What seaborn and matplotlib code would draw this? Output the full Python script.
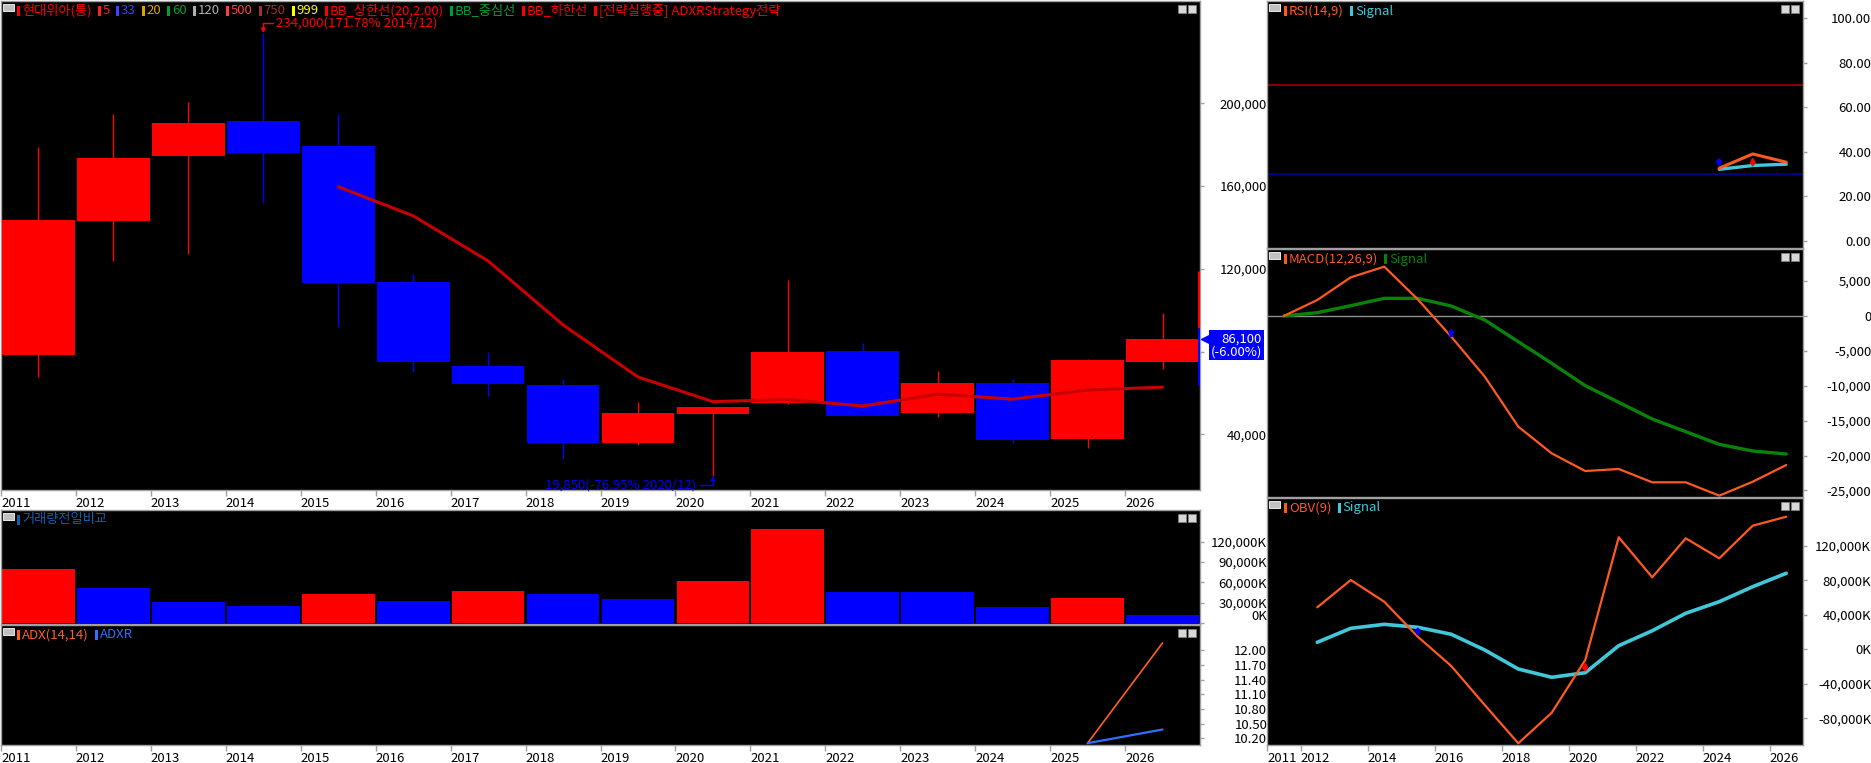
import numpy as np
import pandas as pd
import matplotlib
matplotlib.use("Agg")
import matplotlib.pyplot as plt
import seaborn as sns
from matplotlib.patches import Rectangle
from matplotlib import transforms, font_manager

# ---------------- data ----------------
years = ["2011", "2012", "2013", "2014", "2015", "2016", "2017", "2018",
         "2019", "2020", "2021", "2022", "2023", "2024", "2025", "2026"]
opens = [78300, 143250, 174700, 191300, 179400, 113600, 73100, 63800,
         35930, 49800, 54980, 80260, 50300, 64800, 37720, 75100]
closes = [143600, 173700, 190300, 176000, 113100, 75100, 64450, 35930,
          50150, 53350, 79950, 48990, 64800, 37400, 75900, 86100]
highs = [179000, 194700, 200800, 234000, 194700, 117500, 79900, 66600,
         55750, 53350, 114600, 84000, 70600, 66700, 76400, 98800]
lows = [67800, 123800, 127150, 152000, 91700, 70000, 58500, 28050,
        34800, 19850, 54650, 48990, 48500, 35950, 33500, 71700]
ma5_years = ["2015", "2016", "2017", "2018", "2019", "2020", "2021",
             "2022", "2023", "2024", "2025", "2026"]
ma5 = [159700, 145600, 123800, 92900, 67700, 55800, 56800, 53700,
       59400, 57000, 61400, 62800]
cur_bar_lo, cur_bar_mid, cur_bar_hi = 63800, 91200, 119000

volume_k = [79700, 51700, 31000, 25100, 42800, 32500, 47200, 42800,
            35400, 62000, 138700, 45800, 45800, 23600, 36900, 11800]
volume_dir = ["up", "down", "down", "down", "up", "down", "up", "down",
              "down", "up", "up", "down", "down", "down", "up", "down"]

adx_years = ["2025", "2026"]
adx = [10.10, 12.15]
adxr = [10.10, 10.38]

rsi_years = ["2024", "2025", "2026"]
rsi = [32.6, 39.0, 35.3]
rsi_signal = [32.1, 33.8, 34.4]

macd = [0, 2290, 5540, 7070, 2390, -2960, -8690, -15850, -19680, -22210,
        -21920, -23830, -23830, -25740, -23740, -21350]
macd_signal = [0, 480, 1480, 2530, 2530, 1430, -570, -3680, -6780, -9980,
               -12370, -14760, -16570, -18390, -19340, -19770]

obv_years = years[1:]
obv_k = [48600, 80200, 55100, 14600, -19300, -64500, -108800, -73400,
         -12400, 129700, 83400, 128500, 105400, 143100, 153500]
obv_signal_k = [8100, 24300, 28900, 25500, 17400, -800, -22800, -32400,
                -27100, 4200, 21500, 41700, 55100, 72500, 88000]

price_ticks = [40000, 80000, 120000, 160000, 200000]
price_labels = ["40,000", "", "120,000", "160,000", "200,000"]
vol_ticks = [0, 30000, 60000, 90000, 120000]
vol_labels = ["0K", "30,000K", "60,000K", "90,000K", "120,000K"]
adx_ticks = [10.2, 10.5, 10.8, 11.1, 11.4, 11.7, 12.0]
adx_labels = ["10.20", "10.50", "10.80", "11.10", "11.40", "11.70", "12.00"]
rsi_ticks = [0, 20, 40, 60, 80, 100]
rsi_labels = ["0.00", "20.00", "40.00", "60.00", "80.00", "100.00"]
macd_ticks = [-25000, -20000, -15000, -10000, -5000, 0, 5000]
macd_labels = ["-25,000", "-20,000", "-15,000", "-10,000", "-5,000", "0", "5,000"]
obv_ticks = [-80000, -40000, 0, 40000, 80000, 120000]
obv_labels = ["-80,000K", "-40,000K", "0K", "40,000K", "80,000K", "120,000K"]
right_date_labels = ["2011", "2012", "2014", "2016", "2018", "2020", "2022", "2024", "2026"]

# ---------------- style ----------------
sns.set_theme(style="ticks")
installed = {f.name for f in font_manager.fontManager.ttflist}
if "Liberation Sans Narrow" in installed:
    plt.rcParams["font.family"] = ["Liberation Sans Narrow", "Noto Sans CJK KR", "DejaVu Sans"]
    FS = 10
else:
    plt.rcParams["font.family"] = ["Noto Sans CJK KR", "DejaVu Sans"]
    FS = 9.5
plt.rcParams["axes.unicode_minus"] = False

W, H = 1871, 763
fig = plt.figure(figsize=(W / 100, H / 100), dpi=100, facecolor="white")


def add_ax(x0, y0, x1, y1):
    return fig.add_axes([x0 / W, 1 - y1 / H, (x1 - x0) / W, (y1 - y0) / H])


def style_panel(ax):
    ax.set_facecolor("black")
    for s in ax.spines.values():
        s.set_color("#A0A0A0")
        s.set_linewidth(1)
    ax.grid(False)
    ax.set_xlabel("")
    ax.set_ylabel("")


def right_ticks(ax, ticks, labels, pad_px):
    ax.set_yticks(ticks)
    ax.set_yticklabels(labels)
    ax.tick_params(axis="y", left=False, labelleft=False, right=True,
                   labelright=True, length=3, width=1, color="#A0A0A0",
                   pad=pad_px * 0.72, labelsize=FS, labelcolor="black",
                   direction="out")
    for tk in ax.yaxis.get_major_ticks():
        tk.label2.set_horizontalalignment("right")


def date_ticks(ax, positions, labels):
    ax.set_xticks(positions)
    ax.set_xticklabels(labels)
    ax.tick_params(axis="x", bottom=True, labelbottom=True, top=False,
                   length=4, width=1, color="#A0A0A0", pad=1, labelsize=FS,
                   labelcolor="black", direction="out")
    for tk in ax.xaxis.get_major_ticks():
        tk.label1.set_horizontalalignment("left")


def no_xticks(ax):
    ax.tick_params(axis="x", bottom=False, labelbottom=False, top=False)


xi = np.arange(len(years))
idx = {y: i for i, y in enumerate(years)}

ax_main = add_ax(1, 1, 1200, 490)
ax_vol = add_ax(1, 510, 1200, 624)
ax_adx = add_ax(1, 625, 1200, 745)
ax_rsi = add_ax(1267, 1, 1803, 248)
ax_macd = add_ax(1267, 249, 1803, 497)
ax_obv = add_ax(1267, 498, 1803, 745)

RED, BLUE = "#FF0000", "#0000FF"
ORANGE, CYAN, GREEN = "#FF5A1E", "#40C8D8", "#0A820A"

# ---------------- main candles ----------------
cols = [RED if c >= o else BLUE for o, c in zip(opens, closes)]
ax_main.vlines(xi, lows, highs, colors=cols, lw=1, zorder=2)
ax_main.bar(xi, np.array(closes) - np.array(opens), bottom=opens, width=0.97,
            color=cols, linewidth=0, zorder=3)
sns.lineplot(x=[idx[y] for y in ma5_years], y=ma5, ax=ax_main,
             color="#C80000", linewidth=2.2, zorder=4)
ax_main.vlines([15.48], [cur_bar_mid], [cur_bar_hi], colors=RED, lw=2.2, zorder=5)
ax_main.vlines([15.48], [cur_bar_lo], [cur_bar_mid], colors=BLUE, lw=2.2, zorder=5)
ax_main.set_xlim(-0.5, 15.5)
ax_main.set_ylim(13080, 249450)
style_panel(ax_main)
right_ticks(ax_main, price_ticks, price_labels, 63)
date_ticks(ax_main, xi - 0.5, years)

imax = int(np.argmax(highs))
imin = int(np.argmin(lows))
ax_main.annotate(f"{highs[imax]:,}(171.78% 2014/12)", xy=(imax, highs[imax]),
                 xytext=(9, 7), textcoords="offset points", ha="left", va="center",
                 color=RED, fontsize=FS,
                 arrowprops=dict(arrowstyle="-|>", color=RED, lw=1, mutation_scale=6,
                                 shrinkA=0, shrinkB=0,
                                 connectionstyle="angle,angleA=0,angleB=90,rad=0"))
ax_main.annotate(f"{lows[imin]:,}(-76.95% 2020/12)", xy=(imin, lows[imin]),
                 xytext=(-12, -6.5), textcoords="offset points", ha="right", va="center",
                 color=BLUE, fontsize=FS,
                 arrowprops=dict(arrowstyle="-|>", color=BLUE, lw=1, mutation_scale=6,
                                 shrinkA=0, shrinkB=0,
                                 connectionstyle="angle,angleA=0,angleB=90,rad=0"))

blend = transforms.blended_transform_factory(ax_main.transAxes, ax_main.transData)
ax_main.annotate(f"{closes[-1]:,}\n(-6.00%)", xy=(1, closes[-1]), xycoords=blend,
                 xytext=(62 * 0.72, -4.5), textcoords="offset points", ha="right",
                 va="center", multialignment="right", color="white", fontsize=FS,
                 linespacing=1.0, annotation_clip=False,
                 bbox=dict(boxstyle="square,pad=0.15", fc=BLUE, ec="none"))
ax_main.plot([1.004], [closes[-1]], transform=blend, marker="<", ms=6,
             color=BLUE, clip_on=False, zorder=6)

# ---------------- volume ----------------
vol_df = pd.DataFrame({"year": years, "vol": volume_k, "dir": volume_dir})
sns.barplot(data=vol_df, x="year", y="vol", hue="dir", order=years,
            palette={"up": RED, "down": BLUE}, dodge=False, width=0.97,
            saturation=1, errorbar=None, legend=False, linewidth=0, ax=ax_vol)
ax_vol.set_xlim(-0.5, 15.5)
ax_vol.set_ylim(-1500, 166800)
style_panel(ax_vol)
right_ticks(ax_vol, vol_ticks, vol_labels, 63)
ax_vol.yaxis.get_major_ticks()[0].label2.set_verticalalignment("bottom")
no_xticks(ax_vol)

# ---------------- ADX ----------------
sns.lineplot(x=[idx[y] for y in adx_years], y=adx, ax=ax_adx, color="#FF6020", linewidth=1.2)
sns.lineplot(x=[idx[y] for y in adx_years], y=adxr, ax=ax_adx, color="#3070FF", linewidth=1.6)
ax_adx.set_xlim(-0.5, 15.5)
ax_adx.set_ylim(10.063, 12.517)
style_panel(ax_adx)
right_ticks(ax_adx, adx_ticks, adx_labels, 63)
date_ticks(ax_adx, xi - 0.5, years)

# ---------------- RSI ----------------
ax_rsi.axhline(70, color="#B00000", lw=1.1)
ax_rsi.axhline(30, color="#0000B0", lw=1.1)
rx = [idx[y] for y in rsi_years]
sns.lineplot(x=rx, y=rsi_signal, ax=ax_rsi, color=CYAN, linewidth=2.4)
sns.lineplot(x=rx, y=rsi, ax=ax_rsi, color=ORANGE, linewidth=2.2)
ax_rsi.annotate("", xy=(rx[0], rsi[0] + 0.3), xytext=(rx[0], rsi[0] + 3.8),
                arrowprops=dict(arrowstyle="-|>", color=BLUE, lw=2, mutation_scale=6,
                                shrinkA=0, shrinkB=0))
ax_rsi.annotate("", xy=(rx[1], rsi[1] - 1.2), xytext=(rx[1], rsi_signal[1] + 0.3),
                arrowprops=dict(arrowstyle="-|>", color=RED, lw=2, mutation_scale=6,
                                shrinkA=0, shrinkB=0))
ax_rsi.set_xlim(-0.5, 15.5)
ax_rsi.set_ylim(-3.3, 107.8)
style_panel(ax_rsi)
right_ticks(ax_rsi, rsi_ticks, rsi_labels, 64)
no_xticks(ax_rsi)

# ---------------- MACD ----------------
ax_macd.axhline(0, color="#909090", lw=1)
sns.lineplot(x=xi, y=macd_signal, ax=ax_macd, color=GREEN, linewidth=2.4)
sns.lineplot(x=xi, y=macd, ax=ax_macd, color=ORANGE, linewidth=1.6)
ax_macd.annotate("", xy=(5, macd[5] - 300), xytext=(5, macd[5] + 900),
                 arrowprops=dict(arrowstyle="-|>", color=BLUE, lw=2, mutation_scale=6,
                                 shrinkA=0, shrinkB=0))
ax_macd.set_xlim(-0.5, 15.5)
ax_macd.set_ylim(-25932, 9599)
style_panel(ax_macd)
right_ticks(ax_macd, macd_ticks, macd_labels, 64)
no_xticks(ax_macd)

# ---------------- OBV ----------------
ox = [idx[y] for y in obv_years]
sns.lineplot(x=ox, y=obv_signal_k, ax=ax_obv, color=CYAN, linewidth=2.6)
sns.lineplot(x=ox, y=obv_k, ax=ax_obv, color=ORANGE, linewidth=1.6)
ax_obv.annotate("", xy=(4, obv_k[3]), xytext=(4, obv_signal_k[3] - 2000),
                arrowprops=dict(arrowstyle="-|>", color=BLUE, lw=2, mutation_scale=6,
                                shrinkA=0, shrinkB=0))
ax_obv.annotate("", xy=(9, obv_k[8] - 2000), xytext=(9, obv_signal_k[8] + 3000),
                arrowprops=dict(arrowstyle="-|>", color=RED, lw=2, mutation_scale=6,
                                shrinkA=0, shrinkB=0))
ax_obv.set_xlim(-0.5, 15.5)
ax_obv.set_ylim(-110790, 175160)
style_panel(ax_obv)
right_ticks(ax_obv, obv_ticks, obv_labels, 64)
rpos = [idx[y] - 0.5 for y in right_date_labels]
date_ticks(ax_obv, rpos, right_date_labels)

# ---------------- panel legends & icons ----------------
renderer = fig.canvas.get_renderer()


def legend_row(x_px, y_px, items, gap=6):
    x = x_px
    for label, col in items:
        fig.add_artist(Rectangle((x / W, 1 - (y_px + 5) / H), 3 / W, 10 / H,
                                 transform=fig.transFigure, facecolor=col,
                                 edgecolor="none", zorder=5))
        t = fig.text((x + 5) / W, 1 - y_px / H, label, color=col, fontsize=FS,
                     ha="left", va="center", zorder=5)
        w = t.get_window_extent(renderer).width
        x += 5 + w + gap


def icons(x0, y0, x1):
    fig.add_artist(Rectangle(((x0 + 2) / W, 1 - (y0 + 10) / H), 11 / W, 7 / H,
                             transform=fig.transFigure, facecolor="#C0C0C0",
                             edgecolor="white", lw=0.6, zorder=5))
    for dx in (22, 12):
        fig.add_artist(Rectangle(((x1 - dx) / W, 1 - (y0 + 12) / H), 8 / W, 8 / H,
                                 transform=fig.transFigure, facecolor="#D8D8D8",
                                 edgecolor="#808080", lw=0.6, zorder=5))


legend_row(17, 11, [("현대위아(통)", "#FF0000"), ("5", "#FF2020"), ("33", "#4040FF"),
                    ("20", "#E0A000"), ("60", "#00A030"), ("120", "#B0B0B0"),
                    ("500", "#FF4040"), ("750", "#A03030"), ("999", "#FFFF00"),
                    ("BB_상한선(20,2.00)", "#FF0000"), ("BB_중심선", "#00A030"),
                    ("BB_하한선", "#FF0000"), ("[전략실행중] ADXRStrategy전략", "#FF0000")])
legend_row(17, 520, [("거래량전일비교", "#1060B0")])
legend_row(17, 635, [("ADX(14,14)", "#FF6020"), ("ADXR", "#3070FF")])
legend_row(1284, 11, [("RSI(14,9)", ORANGE), ("Signal", CYAN)])
legend_row(1284, 259, [("MACD(12,26,9)", ORANGE), ("Signal", GREEN)])
legend_row(1284, 508, [("OBV(9)", ORANGE), ("Signal", CYAN)])

icons(1, 1, 1200)
icons(1, 510, 1200)
icons(1, 625, 1200)
icons(1267, 1, 1803)
icons(1267, 249, 1803)
icons(1267, 498, 1803)

fig.savefig("out.png", dpi=100, facecolor="white")
